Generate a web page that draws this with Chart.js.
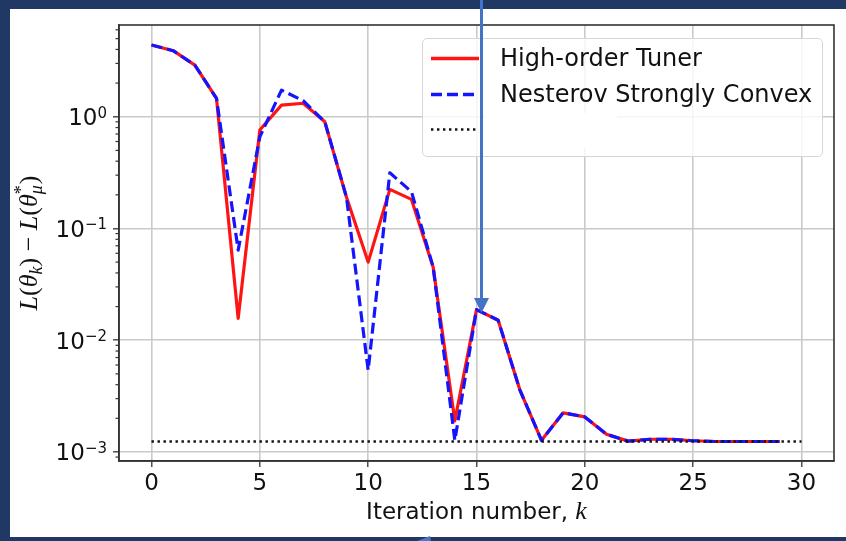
<!DOCTYPE html>
<html>
<head>
<meta charset="utf-8">
<script src="https://cdn.jsdelivr.net/npm/chart.js@4.4.1/dist/chart.umd.min.js"></script>
<style>
  html, body { margin: 0; padding: 0; background: #203864; }
  #wrap { position: relative; width: 846px; height: 541px; overflow: hidden; }
  #paper { position: absolute; left: 10px; top: 9px; width: 836px; height: 528px; background: #fff; }
  #chart { position: absolute; left: 0; top: 0; }
  #legend {
    position: absolute; left: 422px; top: 38px; width: 399px; height: 117px;
    background: rgba(255,255,255,0.8); border: 1px solid #d6d6d6; border-radius: 5px;
    font-family: "DejaVu Sans", sans-serif; font-size: 24px; color: #111;
  }
  #legend .row { position: absolute; left: 0; height: 24px; line-height: 24px; white-space: nowrap; }
  #legend .row svg { position: absolute; left: 7px; top: 0; }
  #legend .row span { position: absolute; left: 77px; top: 0; }
  #cover { position: absolute; left: 485px; top: 113px; width: 132px; height: 35px; background: #fff; }
  #overlay { position: absolute; left: 0; top: 0; }
</style>
</head>
<body>
<div id="wrap">
  <div id="paper"></div>
  <canvas id="chart" width="846" height="541"></canvas>
  <div id="legend"></div>
  <div id="cover"></div>
  <svg id="overlay" width="846" height="541">
    <line x1="481.5" y1="0" x2="481.5" y2="299" stroke="#4472c4" stroke-width="3"/>
    <polygon points="474,298 489,298 481.5,313" fill="#4472c4"/>
    <polygon points="417,541 430,536 431,541" fill="#4a78c8"/>
  </svg>
</div>
<script>
// values
const iterations = [0, 1, 2, 3, 4, 5, 6, 7, 8, 9, 10, 11, 12, 13, 14, 15, 16, 17, 18, 19, 20, 21, 22, 23, 24, 25, 26, 27, 28, 29];
const highOrderTuner = [4.38, 3.9, 2.9, 1.46, 0.0157, 0.76, 1.27, 1.32, 0.90, 0.19, 0.050, 0.224, 0.182, 0.045, 0.0019, 0.0188, 0.0151, 0.0036, 0.00127, 0.00224, 0.00206, 0.00144, 0.00125, 0.0013, 0.0013, 0.00126, 0.00124, 0.00124, 0.00124, 0.00124];
const nesterovConvex = [4.38, 3.9, 2.9, 1.46, 0.064, 0.66, 1.73, 1.39, 0.90, 0.19, 0.0054, 0.315, 0.213, 0.045, 0.00127, 0.0188, 0.0151, 0.0036, 0.00127, 0.00224, 0.00206, 0.00144, 0.00125, 0.0013, 0.0013, 0.00126, 0.00124, 0.00124, 0.00124, 0.00124];
const floorX = [0, 30];
const floorY = [0.00124, 0.00124];

const seriesLabels = ['High-order Tuner', 'Nesterov Strongly Convex', ''];

const xTicks = [0, 5, 10, 15, 20, 25, 30];
const yMajorTicks = [0.001, 0.01, 0.1, 1];
const yTickBase = '10';
const yTickExponents = ['\u22123', '\u22122', '\u22121', '0'];
const yMinorTicks = [0.0009,
  0.002, 0.003, 0.004, 0.005, 0.006, 0.007, 0.008, 0.009,
  0.02, 0.03, 0.04, 0.05, 0.06, 0.07, 0.08, 0.09,
  0.2, 0.3, 0.4, 0.5, 0.6, 0.7, 0.8, 0.9,
  2, 3, 4, 5, 6];

const xRange = [-1.5, 31.5];
const yRange = [0.00083, 6.62];

const toPoints = (xs, ys) => xs.map((x, i) => ({ x: x, y: ys[i] }));

const SPINE = '#333';
const GRID = '#cacaca';
const INK = '#111';

// minor ticks, log tick labels, the top/right spines and both axis titles
const extras = {
    id: 'extras',
    afterDraw(chart) {
        const { ctx, chartArea: a, scales } = chart;
        const y = scales.y;
        ctx.save();

        ctx.strokeStyle = SPINE;
        ctx.lineWidth = 1.2;
        yMinorTicks.forEach(v => {
            const py = y.getPixelForValue(v);
            ctx.beginPath();
            ctx.moveTo(a.left - 3.5, py);
            ctx.lineTo(a.left, py);
            ctx.stroke();
        });

        ctx.lineWidth = 1.6;
        ctx.strokeRect(a.left, a.top, a.right - a.left, a.bottom - a.top);

        // y tick labels as 10 with a raised exponent
        ctx.fillStyle = INK;
        ctx.textBaseline = 'alphabetic';
        ctx.textAlign = 'left';
        const baseF = '23px "DejaVu Sans"';
        const expF = '15px "DejaVu Sans"';
        yMajorTicks.forEach((v, i) => {
            const py = y.getPixelForValue(v);
            ctx.font = expF;
            const we = ctx.measureText(yTickExponents[i]).width;
            ctx.font = baseF;
            const wb = ctx.measureText(yTickBase).width;
            const right = a.left - 12;
            ctx.fillText(yTickBase, right - we - wb, py + 8.5);
            ctx.font = expF;
            ctx.fillText(yTickExponents[i], right - we, py + 1);
        });

        // x title: "Iteration number, k"
        const sansF = '23px "DejaVu Sans"';
        const mathF = 'italic 26px "Liberation Serif"';
        ctx.font = sansF;
        const t1 = 'Iteration number, ';
        const w1 = ctx.measureText(t1).width;
        ctx.font = mathF;
        const w2 = ctx.measureText('k').width;
        const sx = (a.left + a.right) / 2 - (w1 + w2) / 2;
        ctx.font = sansF;
        ctx.fillText(t1, sx, 519);
        ctx.font = mathF;
        ctx.fillText('k', sx + w1, 519);

        // y title: L(θ_k) − L(θ*_μ)
        const big = 26, small = 18;
        const it = s => `italic ${s}px "Liberation Serif"`;
        const up = s => `${s}px "Liberation Serif"`;
        const parts = [
            { t: 'L', f: it(big), dy: 0 },
            { t: '(', f: up(big), dy: 0 },
            { t: '\u03B8', f: it(big), dy: 0 },
            { t: 'k', f: it(small), dy: 5 },
            { t: ')', f: up(big), dy: 0 },
            { t: ' \u2212 ', f: up(big), dy: 0 },
            { t: 'L', f: it(big), dy: 0 },
            { t: '(', f: up(big), dy: 0 },
            { t: '\u03B8', f: it(big), dy: 0 },
            { stack: [{ t: '*', f: up(small), dy: -10 }, { t: '\u03BC', f: it(small), dy: 5 }] },
            { t: ')', f: up(big), dy: 0 }
        ];
        const widthOf = p => {
            if (p.stack) {
                return Math.max(...p.stack.map(q => { ctx.font = q.f; return ctx.measureText(q.t).width; })) + 1;
            }
            ctx.font = p.f;
            return ctx.measureText(p.t).width;
        };
        const total = parts.reduce((s, p) => s + widthOf(p), 0);
        ctx.translate(37, (a.top + a.bottom) / 2);
        ctx.rotate(-Math.PI / 2);
        let px = -total / 2;
        parts.forEach(p => {
            const w = widthOf(p);
            (p.stack || [p]).forEach(q => {
                ctx.font = q.f;
                ctx.fillText(q.t, px, q.dy);
            });
            px += w;
        });

        ctx.restore();
    }
};

const chart = new Chart(document.getElementById('chart'), {
    type: 'line',
    data: {
        datasets: [
            {
                label: seriesLabels[0], data: toPoints(iterations, highOrderTuner),
                borderColor: '#ff1414', borderWidth: 3.2, pointRadius: 0, tension: 0,
                borderJoinStyle: 'round', order: 2
            },
            {
                label: seriesLabels[1], data: toPoints(iterations, nesterovConvex),
                borderColor: '#1414ff', borderWidth: 3.2, borderDash: [11, 5], pointRadius: 0, tension: 0,
                borderJoinStyle: 'round', order: 1
            },
            {
                label: seriesLabels[2], data: toPoints(floorX, floorY),
                borderColor: '#111', borderWidth: 2.4, borderDash: [2.4, 3.6], pointRadius: 0, tension: 0,
                order: 0
            }
        ]
    },
    options: {
        responsive: false, animation: false, devicePixelRatio: 1,
        layout: { padding: { left: 0, right: 12, top: 25, bottom: 0 } },
        plugins: { legend: { display: false }, tooltip: { enabled: false } },
        scales: {
            x: {
                type: 'linear', min: xRange[0], max: xRange[1], bounds: 'data',
                afterBuildTicks: axis => { axis.ticks = xTicks.map(v => ({ value: v })); },
                afterFit: scale => { scale.height = 80; },
                ticks: {
                    autoSkip: false, maxRotation: 0, padding: 3, color: INK,
                    font: { family: 'DejaVu Sans', size: 23 },
                    callback: v => String(v)
                },
                grid: { color: GRID, lineWidth: 1.6, tickColor: SPINE, tickLength: 6, tickWidth: 1.3 },
                border: { color: SPINE, width: 1.6 }
            },
            y: {
                type: 'logarithmic', min: yRange[0], max: yRange[1], bounds: 'data',
                afterBuildTicks: axis => { axis.ticks = yMajorTicks.map(v => ({ value: v })); },
                afterFit: scale => { scale.width = 119; },
                ticks: { display: false, autoSkip: false },
                grid: { color: GRID, lineWidth: 1.6, tickColor: SPINE, tickLength: 6, tickWidth: 1.3 },
                border: { color: SPINE, width: 1.6 }
            }
        }
    },
    plugins: [extras]
});

// legend box drawn in html, same styles as the datasets
const legendRows = [
    { label: seriesLabels[0], color: '#ff1414', width: 3.4, dash: '' },
    { label: seriesLabels[1], color: '#1414ff', width: 3.4, dash: '11,5' },
    { label: seriesLabels[2], color: '#111', width: 2.4, dash: '2.4,3.6' }
];
const legendTops = [7, 43, 78];
const legendEl = document.getElementById('legend');
legendRows.forEach((r, i) => {
    const row = document.createElement('div');
    row.className = 'row';
    row.style.top = legendTops[i] + 'px';
    row.innerHTML = `<svg width="50" height="24"><line x1="1" y1="12.5" x2="49" y2="12.5" stroke="${r.color}" stroke-width="${r.width}" stroke-dasharray="${r.dash}"/></svg><span>${r.label}</span>`;
    legendEl.appendChild(row);
});
</script>
</body>
</html>
